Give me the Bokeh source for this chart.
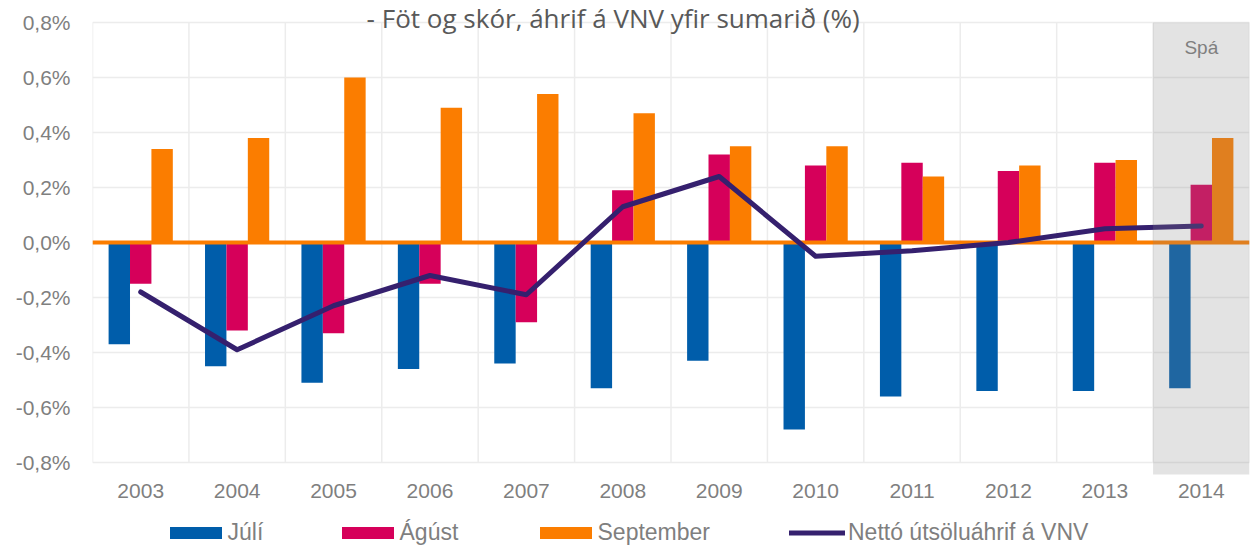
from bokeh.plotting import figure
from bokeh.models import (Range1d, FixedTicker, CustomJSTickFormatter, Label,
                          Legend, LegendItem, ColumnDataSource)
from bokeh.core.properties import value
from bokeh.embed import file_html
from bokeh.resources import INLINE

# ---------------- data ----------------
years = ["2003", "2004", "2005", "2006", "2007", "2008",
         "2009", "2010", "2011", "2012", "2013", "2014"]
juli = [-0.37, -0.45, -0.51, -0.46, -0.44, -0.53, -0.43, -0.68, -0.56, -0.54, -0.54, -0.53]
agust = [-0.15, -0.32, -0.33, -0.15, -0.29, 0.19, 0.32, 0.28, 0.29, 0.26, 0.29, 0.21]
september = [0.34, 0.38, 0.60, 0.49, 0.54, 0.47, 0.35, 0.35, 0.24, 0.28, 0.30, 0.38]
netto = [-0.18, -0.39, -0.23, -0.12, -0.19, 0.13, 0.24, -0.05, -0.03, 0.00, 0.05, 0.06]
series_names = ["Júlí", "Ágúst", "September", "Nettó útsöluáhrif á VNV"]
y_ticks = [-0.8, -0.6, -0.4, -0.2, 0.0, 0.2, 0.4, 0.6, 0.8]
forecast_year = "2014"
forecast_label = "Spá"
title_text = "- Föt og skór, áhrif á VNV yfir sumarið (%)"

# ---------------- styles ----------------
C_BLUE = "#005daa"
C_PINK = "#d6005a"
C_ORANGE = "#fb7d00"
C_LINE = "#35206e"
C_TEXT = "#7f7f7f"
C_GRID = "#ececec"
FONT = "Liberation Sans"
BW = 0.222
PX = 1.6 / 440.0          # data units per screen pixel (vertical)
Y_TOP_PAD = 22            # px above the 0.8 gridline
Y_BOT_PAD = 84            # px below the -0.8 gridline (labels + legend)

n = len(years)
centers = [i + 0.5 for i in range(n)]
src = ColumnDataSource(dict(
    year=years,
    xc=centers,
    xj=[c - BW for c in centers],
    xs=[c + BW for c in centers],
    juli=juli, agust=agust, september=september, netto=netto,
))

y_hi = y_ticks[-1] + Y_TOP_PAD * PX
y_lo = y_ticks[0] - Y_BOT_PAD * PX
p = figure(width=1250, height=546, output_backend="svg", toolbar_location=None,
           x_range=Range1d(0, n), y_range=Range1d(y_lo, y_hi),
           min_border_left=92, min_border_right=1, min_border_top=0,
           min_border_bottom=0)
p.outline_line_color = None
p.background_fill_color = "white"
p.border_fill_color = "white"

# grid
p.xgrid.visible = False
p.ygrid.ticker = FixedTicker(ticks=y_ticks)
p.ygrid.grid_line_color = C_GRID
p.ygrid.grid_line_width = 1.5
bounds = list(range(n + 1))
p.segment(x0=bounds, y0=[y_ticks[0]] * len(bounds), x1=bounds,
          y1=[y_ticks[-1]] * len(bounds), line_color=C_GRID, line_width=1.5)

# y axis
ya = p.yaxis[0]
ya.axis_line_color = None
ya.major_tick_line_color = None
ya.minor_tick_line_color = None
ya.major_tick_out = 0
ya.major_tick_in = 0
ya.minor_tick_out = 0
ya.major_label_text_font = FONT
ya.major_label_text_font_size = "21px"
ya.major_label_text_color = C_TEXT
ya.ticker = FixedTicker(ticks=y_ticks)
ya.formatter = CustomJSTickFormatter(
    code="return tick.toFixed(1).replace('.', ',') + '%';")
ya.major_label_standoff = 22
p.xaxis.visible = False

# category labels (x axis)
p.text(x="xc", y=y_ticks[0] - 28 * PX, text="year", source=src,
       text_align="center", text_baseline="middle", text_font=value(FONT),
       text_font_size="21px", text_color=C_TEXT)

# bars
r_j = p.vbar(x="xj", top="juli", bottom=0, width=BW, source=src,
             fill_color=C_BLUE, line_color=None)
r_a = p.vbar(x="xc", top="agust", bottom=0, width=BW, source=src,
             fill_color=C_PINK, line_color=None)
r_s = p.vbar(x="xs", top="september", bottom=0, width=BW, source=src,
             fill_color=C_ORANGE, line_color=None)

# zero line
p.hspan(y=[0], line_color=C_ORANGE, line_width=4)

# net line
r_n = p.line(x="xc", y="netto", source=src, line_color=C_LINE, line_width=5,
             line_cap="round", line_join="round")

# forecast shading
fi = years.index(forecast_year)
p.quad(left=[fi], right=[fi + 1], bottom=[y_ticks[0] - 12 * PX], top=[y_ticks[-1]],
       fill_color="#868686", fill_alpha=0.23, line_color=None)
p.add_layout(Label(x=fi + 0.5, y=y_ticks[-1] - 25 * PX, text=forecast_label,
                   text_align="center", text_baseline="middle", text_font=FONT,
                   text_font_size="19px", text_color=C_TEXT))

# title (partly clipped at the top, as in the source)
p.add_layout(Label(x=5.40, y=y_ticks[-1] + 4.5 * PX, text=title_text,
                   text_align="center", text_baseline="alphabetic",
                   text_font="Open Sans", text_font_size="26px",
                   text_color="#595959"))

# legends
def add_leg(name, rend, x, gw, gh, standoff):
    leg = Legend(items=[LegendItem(label=name, renderers=[rend])],
                 location=(x, 0), orientation="horizontal",
                 glyph_width=gw, glyph_height=gh, label_standoff=standoff,
                 padding=0, margin=0, spacing=0, border_line_color=None,
                 background_fill_alpha=0, label_text_font=FONT,
                 label_text_font_size="23px", label_text_color=C_TEXT)
    p.add_layout(leg)

add_leg(series_names[0], r_j, 70.5, 65, 15, -2)
add_leg(series_names[1], r_a, 242.5, 65, 15, -2)
add_leg(series_names[2], r_s, 440.5, 65, 15, -2)
add_leg(series_names[3], r_n, 697, 56, 15, 3)

open("out.html", "w").write(file_html(p, INLINE))
